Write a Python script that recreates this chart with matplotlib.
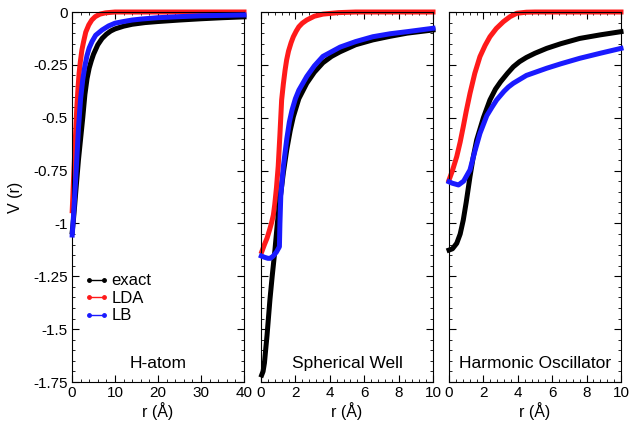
import numpy as np
import matplotlib
matplotlib.use("Agg")
import matplotlib.pyplot as plt
from matplotlib.ticker import MultipleLocator
from matplotlib.lines import Line2D

plt.rcParams['font.family'] = ['Liberation Sans', 'DejaVu Sans']

# ---- H-atom ----
h_r_exact = [0.05, 0.3, 0.6, 1.0, 1.5, 2.0, 2.5, 3.0, 3.5, 4.0, 4.5, 5, 6, 7, 8, 9, 10, 12, 14, 17,
             20, 25, 30, 35, 40]
h_v_exact = [-1.04, -0.99, -0.92, -0.82, -0.7, -0.6, -0.5, -0.39, -0.315, -0.265, -0.23, -0.2,
             -0.155, -0.125, -0.105, -0.09, -0.08, -0.067, -0.058, -0.05, -0.045, -0.038, -0.032,
             -0.027, -0.023]
h_r_lda = [0.05, 0.3, 0.6, 0.93, 1.15, 1.4, 1.65, 1.94, 2.3, 2.7, 3.2, 3.9, 4.6, 5.4, 6.5, 7.8,
           10, 20, 30, 40]
h_v_lda = [-0.94, -0.82, -0.68, -0.535, -0.44, -0.36, -0.29, -0.235, -0.18, -0.14, -0.095, -0.061,
           -0.038, -0.022, -0.01, -0.004, 0, 0, 0, 0]
h_r_lb = [0.05, 0.3, 0.6, 1.0, 1.5, 2.0, 2.5, 3.0, 3.5, 4.0, 4.65, 5.5, 7, 8.5, 10, 12, 14, 16.3,
          20, 25, 30, 35, 40]
h_v_lb = [-1.055, -0.98, -0.88, -0.74, -0.55, -0.41, -0.32, -0.255, -0.205, -0.17, -0.14, -0.11,
          -0.085, -0.066, -0.053, -0.045, -0.038, -0.033, -0.027, -0.022, -0.018, -0.016, -0.014]

# ---- Spherical well ----
s_r_exact = [0.04, 0.12, 0.2, 0.28, 0.35, 0.45, 0.52, 0.65, 0.81, 0.95, 1.1, 1.3, 1.5, 1.7, 1.88,
             2.2, 2.66, 3.1, 3.6, 4.1, 4.6, 5.5, 6.5, 7.5, 8.5, 10]
s_v_exact = [-1.717, -1.7, -1.66, -1.59, -1.53, -1.43, -1.36, -1.25, -1.126, -1.0, -0.89, -0.76,
             -0.65, -0.56, -0.495, -0.41, -0.337, -0.285, -0.24, -0.21, -0.188, -0.155, -0.132,
             -0.115, -0.10, -0.085]
s_r_lda = [0.05, 0.2, 0.35, 0.5, 0.62, 0.72, 0.8, 0.9, 1.0, 1.1, 1.2, 1.3, 1.4, 1.49, 1.6, 1.75,
           1.88, 2.05, 2.2, 2.4, 2.66, 3.1, 3.6, 4.5, 5.5, 10]
s_v_lda = [-1.133, -1.1, -1.07, -1.03, -0.995, -0.96, -0.91, -0.83, -0.73, -0.58, -0.416, -0.34,
           -0.275, -0.227, -0.185, -0.145, -0.117, -0.09, -0.07, -0.053, -0.038, -0.02, -0.01,
           -0.003, 0, 0]
s_r_lb = [0.02, 0.2, 0.4, 0.55, 0.7, 0.9, 1.07, 1.1, 1.15, 1.3, 1.5, 1.65, 1.8, 2.0, 2.2, 2.66,
          3.1, 3.6, 4.6, 5.5, 6.5, 7.5, 8.5, 10]
s_v_lb = [-1.154, -1.16, -1.165, -1.165, -1.155, -1.135, -1.11, -1.0, -0.87, -0.73, -0.6, -0.52,
          -0.465, -0.41, -0.37, -0.305, -0.255, -0.21, -0.166, -0.14, -0.117, -0.103, -0.093,
          -0.077]

# ---- Harmonic oscillator ----
o_r_exact = [0.0, 0.2, 0.45, 0.65, 0.83, 1.0, 1.22, 1.4, 1.61, 2.0, 2.38, 2.7, 3.0, 3.4, 3.74,
             4.1, 4.5, 5.0, 5.68, 6.5, 7.6, 8.8, 10]
o_v_exact = [-1.126, -1.12, -1.094, -1.05, -0.984, -0.9, -0.779, -0.69, -0.605, -0.5, -0.416,
             -0.365, -0.33, -0.29, -0.259, -0.235, -0.215, -0.195, -0.172, -0.15, -0.125, -0.108,
             -0.093]
o_r_lda = [0.0, 0.2, 0.45, 0.65, 0.83, 1.0, 1.22, 1.5, 1.8, 2.1, 2.38, 2.75, 3.16, 3.55, 3.94,
           4.5, 5, 10]
o_v_lda = [-0.795, -0.75, -0.684, -0.615, -0.542, -0.47, -0.385, -0.29, -0.211, -0.158, -0.117,
           -0.078, -0.046, -0.022, -0.006, -0.001, 0, 0]
o_r_lb = [0.0, 0.2, 0.55, 0.85, 1.22, 1.5, 1.8, 2.2, 2.5, 2.77, 3.2, 3.45, 3.74, 4.5, 5.68, 6.5,
          7.6, 8.8, 10]
o_v_lb = [-0.803, -0.81, -0.818, -0.8, -0.747, -0.66, -0.574, -0.49, -0.45, -0.416, -0.375,
          -0.355, -0.337, -0.3, -0.266, -0.245, -0.219, -0.195, -0.172]

panels = [
    ("H-atom", 40, 10, 2, (h_r_exact, h_v_exact), (h_r_lda, h_v_lda), (h_r_lb, h_v_lb)),
    ("Spherical Well", 10, 2, 0.4, (s_r_exact, s_v_exact), (s_r_lda, s_v_lda), (s_r_lb, s_v_lb)),
    ("Harmonic Oscillator", 10, 2, 0.4, (o_r_exact, o_v_exact), (o_r_lda, o_v_lda), (o_r_lb, o_v_lb)),
]

colors = {"exact": "black", "LDA": "#ff1a1a", "LB": "#1a1aff"}

fig = plt.figure(figsize=(6.3, 4.32), dpi=100)
lefts = [72 / 630, 261 / 630, 449 / 630]
w = 172 / 630
b = 1 - 382 / 432
h = 370 / 432

for i, (name, xmax, major, minor, ex, lda, lb) in enumerate(panels):
    ax = fig.add_axes([lefts[i], b, w, h])
    ax.plot(ex[0], ex[1], color=colors["exact"], lw=3.6, clip_on=False, zorder=3)
    ax.plot(lda[0], lda[1], color=colors["LDA"], lw=3.6, clip_on=False, zorder=2)
    ax.plot(lb[0], lb[1], color=colors["LB"], lw=3.6, clip_on=False, zorder=4)
    ax.set_xlim(0, xmax)
    ax.set_ylim(-1.75, 0)
    ax.xaxis.set_major_locator(MultipleLocator(major))
    ax.xaxis.set_minor_locator(MultipleLocator(minor))
    ax.yaxis.set_major_locator(MultipleLocator(0.25))
    ax.yaxis.set_minor_locator(MultipleLocator(0.05))
    ax.tick_params(which="both", direction="in", top=True, right=True, labelsize=11, pad=3)
    ax.tick_params(which="major", length=5, width=0.8)
    ax.tick_params(which="minor", length=2.5, width=0.6)
    ax.xaxis.set_major_formatter(plt.FuncFormatter(lambda v, p: "%g" % v))
    ax.set_xlabel("r (Å)", fontsize=11.5, labelpad=1)
    ax.text(0.5, 0.03, name, transform=ax.transAxes, ha="center", va="bottom", fontsize=12.5)
    if i == 0:
        ax.yaxis.set_major_formatter(plt.FuncFormatter(lambda v, p: "%g" % v))
        ax.set_ylabel("V (r)", fontsize=11.5, labelpad=7)
        handles = [Line2D([], [], color=colors[k], lw=1, marker="o", markersize=2.5) for k in colors]
        ax.legend(handles, list(colors.keys()), loc="upper left", bbox_to_anchor=(0.0, 0.325),
                  frameon=False, fontsize=12, handlelength=1.5, handletextpad=0.15,
                  labelspacing=0.15, numpoints=2, borderaxespad=0.3)
    else:
        ax.set_yticklabels([])

fig.savefig("out.png", dpi=100)
